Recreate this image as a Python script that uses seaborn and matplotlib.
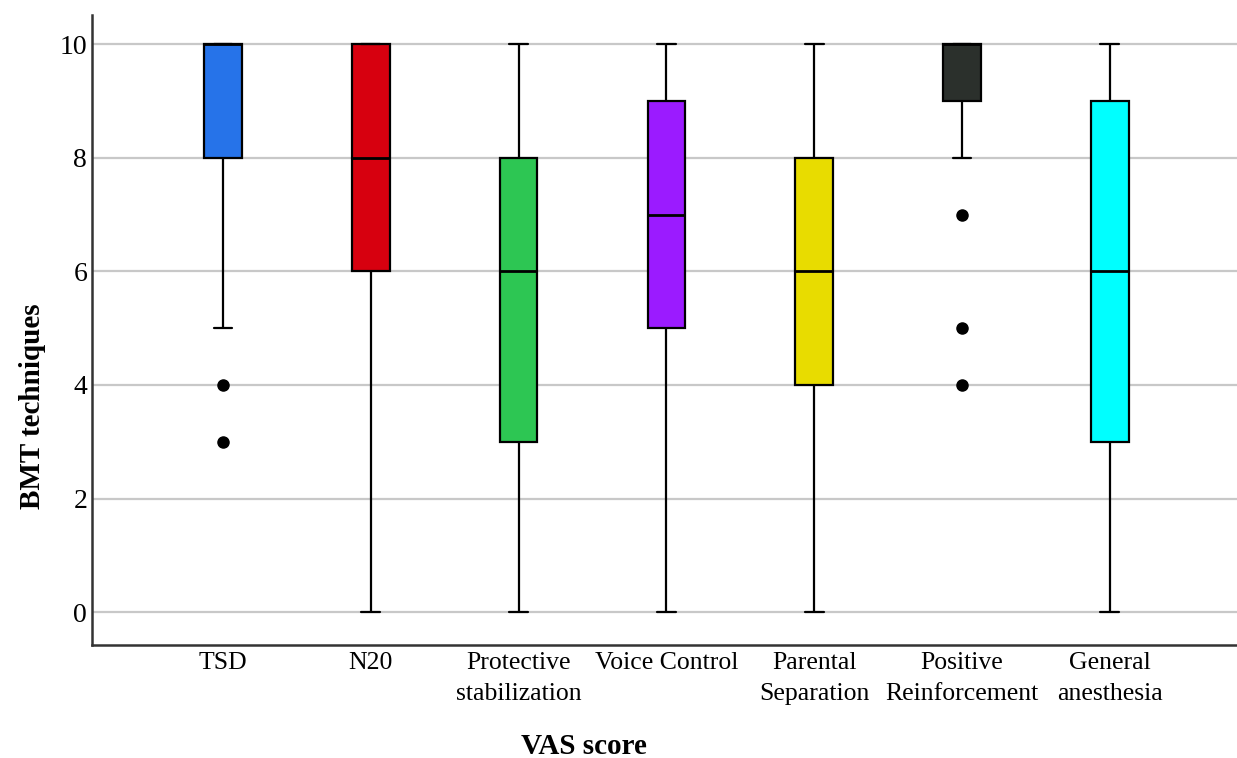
import numpy as np
import pandas as pd
import seaborn as sns
import matplotlib.pyplot as plt

# techniques on the x axis
categories = ["TSD", "N20", "Protective\nstabilization", "Voice Control",
              "Parental\nSeparation", "Positive\nReinforcement", "General\nanesthesia"]

# VAS scores (21 values each, chosen to give the drawn quartiles)
tsd = [3, 4, 5, 8, 8, 8, 9, 9, 10, 10, 10, 10, 10, 10, 10, 10, 10, 10, 10, 10, 10]
n20 = [0, 2, 4, 5, 6, 6, 7, 7, 8, 8, 8, 9, 9, 9, 10, 10, 10, 10, 10, 10, 10]
protective = [0, 1, 2, 2, 3, 3, 4, 5, 5, 6, 6, 7, 7, 7, 8, 8, 9, 9, 10, 10, 10]
voice = [0, 2, 3, 4, 5, 5, 6, 6, 7, 7, 7, 8, 8, 8, 9, 9, 9, 10, 10, 10, 10]
parental = [0, 1, 2, 3, 4, 4, 5, 5, 6, 6, 6, 7, 7, 7, 8, 8, 9, 9, 10, 10, 10]
positive = [4, 5, 7, 8, 9, 9, 9, 9, 10, 10, 10, 10, 10, 10, 10, 10, 10, 10, 10, 10, 10]
general = [0, 1, 2, 2, 3, 3, 4, 5, 5, 6, 6, 7, 7, 8, 8, 9, 9, 10, 10, 10, 10]

colors = ["#2673E9", "#D7000F", "#2DC653", "#9B1BFF", "#E8DC00", "#2B302C", "#00FFFF"]

series = [tsd, n20, protective, voice, parental, positive, general]
df = pd.DataFrame({
    "technique": np.repeat(categories, [len(s) for s in series]),
    "score": np.concatenate(series),
})

sns.set_style("white")
plt.rcParams["font.family"] = ["Liberation Serif", "DejaVu Serif"]
plt.rcParams["text.color"] = "black"
plt.rcParams["xtick.color"] = "black"
plt.rcParams["ytick.color"] = "black"
plt.rcParams["axes.labelcolor"] = "black"

fig = plt.figure(figsize=(12.37, 7.58), dpi=100)
ax = fig.add_axes([0.0744, 0.149, 0.9256, 0.831])

ax.yaxis.grid(True, color="#c8c8c8", linewidth=1.6, zorder=0)
ax.set_axisbelow(True)

sns.boxplot(data=df, x="technique", y="score", hue="technique", order=categories,
            hue_order=categories, palette=colors, saturation=1, legend=False,
            width=0.255, whis=1.5, linecolor="black", linewidth=1.6, ax=ax,
            flierprops={"marker": "o", "markerfacecolor": "black",
                        "markeredgecolor": "black", "markersize": 8},
            medianprops={"linewidth": 2.0})

ax.set_ylim(-0.58, 10.51)
ax.set_xlim(-0.886, 6.86)
ax.set_yticks([0, 2, 4, 6, 8, 10])
ax.tick_params(length=0, labelsize=20)
ax.tick_params(axis="x", pad=5, labelsize=18.5)
for lbl in ax.get_xticklabels():
    lbl.set_linespacing(1.5)

for side in ["top", "right"]:
    ax.spines[side].set_visible(False)
for side in ["left", "bottom"]:
    ax.spines[side].set_color("#333333")
    ax.spines[side].set_linewidth(1.8)

ax.set_xlabel("VAS score", fontsize=21, fontweight="bold")
ax.set_ylabel("BMT techniques", fontsize=21, fontweight="bold")
ax.xaxis.set_label_coords(0.43, -0.14)
ax.yaxis.set_label_coords(-0.04, 0.38)

fig.savefig("out.png", dpi=100)
